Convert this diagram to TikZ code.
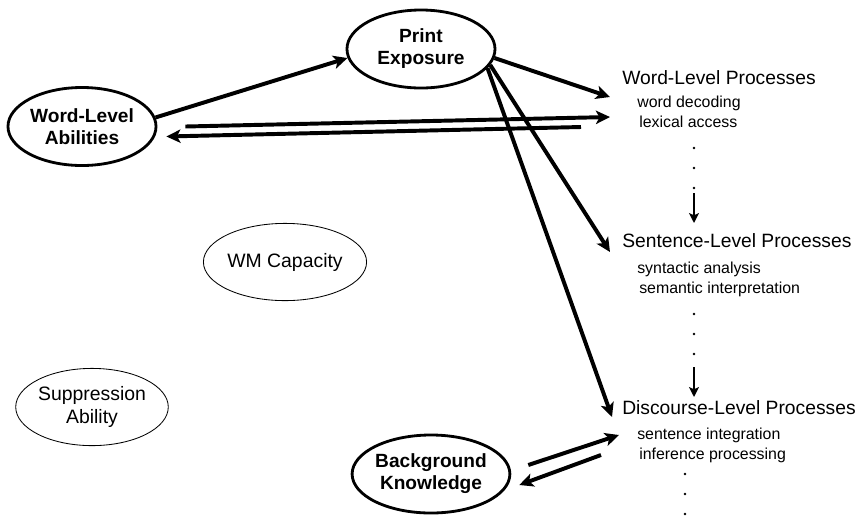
\documentclass[tikz,border=0pt]{standalone}
\usepackage{fontspec}
\setmainfont{Liberation Sans}
\usetikzlibrary{arrows.meta,shapes.geometric}

\begin{document}
\begin{tikzpicture}[x=0.025cm,y=-0.025cm,
  thickell/.style={draw,ellipse,line width=2pt,inner sep=0pt,
               minimum width=3.7cm,minimum height=1.95cm,align=center,
               font=\fontsize{13.6}{15.6}\selectfont\bfseries},
  thinell/.style={draw,ellipse,line width=0.6pt,inner sep=0pt,
               minimum width=3.65cm,minimum height=1.93cm,align=center,
               font=\fontsize{13.8}{16}\selectfont},
  head/.style={anchor=base west,inner sep=0pt,font=\fontsize{13.7}{15}\selectfont},
  item/.style={anchor=base west,inner sep=0pt,font=\fontsize{11.3}{13}\selectfont},
  arr/.style={-{Stealth[length=10pt,width=9.5pt,inset=2.5pt]},line width=2.8pt},
  varr/.style={-{Stealth[length=7pt,width=7pt,inset=1.5pt]},line width=1.5pt},
]
  \useasboundingbox (0,0) rectangle (856,516);

  % left side: abilities
  \node[thickell] (pe)  at (421,49)  {Print\\Exposure};
  \node[thickell] (wla) at (82,126.5) {Word-Level\\Abilities};
  \node[thinell]  (wm)  at (285,262) {WM Capacity};
  \node[thinell]  (sup) at (92,407)  {Suppression\\Ability};
  \node[thickell] (bk)  at (431,474) {Background\\Knowledge};

  % right side: processes
  \node[head] (wlp)  at (622,84)  {Word-Level Processes};
  \node[item] (wlp1) at (637,107) {word decoding};
  \node[item] (wlp2) at (639,127) {lexical access};
  \node[head] (slp)  at (622,247) {Sentence-Level Processes};
  \node[item] (slp1) at (637,273) {syntactic analysis};
  \node[item] (slp2) at (639,293) {semantic interpretation};
  \node[head] (dlp)  at (622,414) {Discourse-Level Processes};
  \node[item] (dlp1) at (637,439) {sentence integration};
  \node[item] (dlp2) at (639,459) {inference processing};

  \coordinate (wlpdots) at (694,188);
  \coordinate (slpdots) at (694,354);
  \coordinate (dlpdots) at (685,514);
  \foreach \c in {wlpdots,slpdots,dlpdots}
    \foreach \d in {0,20,40}
      \fill ([shift={(0,-\d)}]\c) circle[radius=1pt];

  \draw[varr] ([shift={(0,5)}]wlpdots) -- ([shift={(72,-24)}]slp.base west);
  \draw[varr] ([shift={(0,13)}]slpdots) -- ([shift={(72,-17)}]dlp.base west);

  % connectors
  \draw[arr] (wla.7) -- (pe.187);
  \draw[arr] (pe.353) -- ([shift={(-12,13)}]wlp.base west);
  \draw[arr] ([shift={(28,0)}]wla.east) -- ([shift={(-29,-10)}]wlp2.base west);
  \draw[arr] ([shift={(-58,0)}]wlp2.base west) -- ([shift={(9,10)}]wla.east);
  \draw[arr] (pe.347) -- ([shift={(-12,5)}]slp.base west);
  \draw[arr] (pe.344) -- ([shift={(-10,3)}]dlp.base west);
  \draw[arr] ([shift={(17,-9)}]bk.east) -- ([shift={(-18,-4)}]dlp1.base west);
  \draw[arr] ([shift={(-36,16)}]dlp1.base west) -- ([shift={(8,11)}]bk.east);
\end{tikzpicture}
\end{document}
